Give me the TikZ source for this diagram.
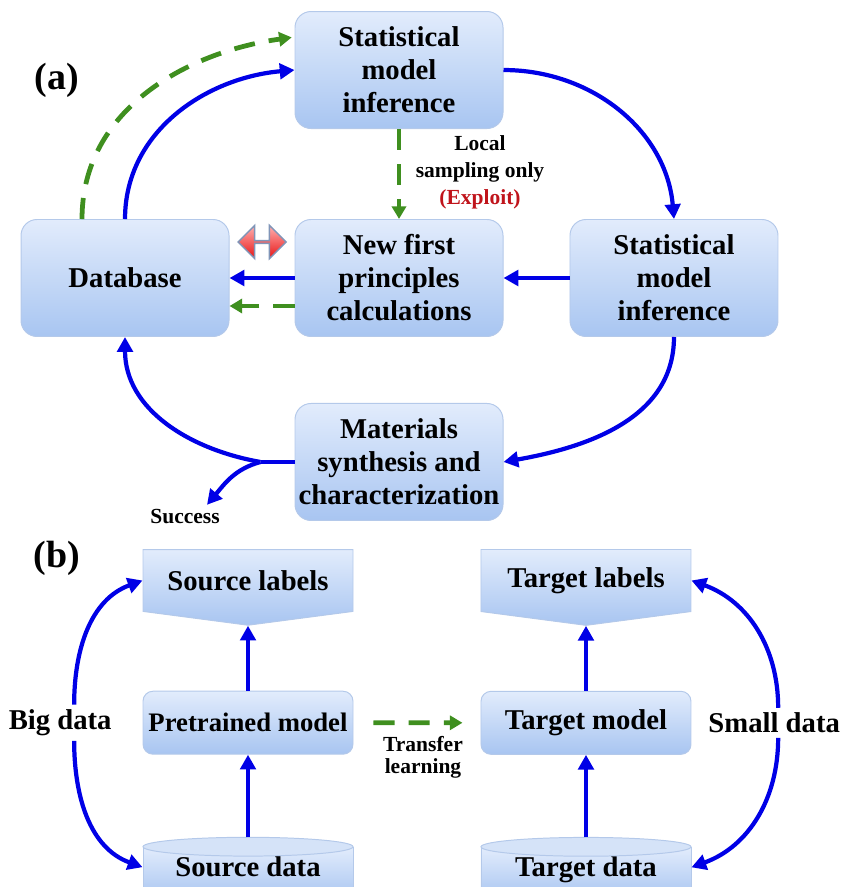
\documentclass[tikz,border=0pt]{standalone}
\usepackage{fontspec}
\setmainfont{Liberation Serif}
\usepackage{tikz}
\usetikzlibrary{
    arrows.meta,
    positioning,
    calc,
    shapes.arrows,
    shapes.symbols,
}
\definecolor{boxtop}{HTML}{E2ECFC}
\definecolor{boxbot}{HTML}{A8C5F1}
\definecolor{boxline}{HTML}{B4C9EA}
\definecolor{capfill}{HTML}{D5E3F8}
\definecolor{arrblue}{HTML}{0000E6}
\definecolor{arrgreen}{HTML}{3F8F1F}
\definecolor{exploitred}{HTML}{C0141B}
\definecolor{dbltop}{HTML}{FFB0B0}
\definecolor{dblred}{HTML}{E81414}
\definecolor{dblline}{HTML}{8095B8}

\begin{document}
\begin{tikzpicture}[
    bigtxt/.style   = {font=\fontsize{20.4}{23.5}\selectfont\bfseries},
    smalltxt/.style = {font=\fontsize{15.3}{19.2}\selectfont\bfseries,
                       align=center},
    abox/.style     = {rectangle, rounded corners=0.4cm, draw=boxline,
                       line width=0.7pt, top color=boxtop, bottom color=boxbot,
                       minimum width=5.2cm, minimum height=2.925cm,
                       align=center, inner sep=2pt, bigtxt},
    bbox/.style     = {rectangle, rounded corners=0.25cm, draw=boxline,
                       line width=0.7pt, top color=boxtop, bottom color=boxbot,
                       minimum width=5.25cm, minimum height=1.575cm,
                       inner sep=1pt, bigtxt},
    lblbox/.style   = {signal, signal to=south, signal from=nowhere,
                       signal pointer angle=165, draw=boxline, line width=0.7pt,
                       top color=boxtop, bottom color=boxbot,
                       minimum width=5.25cm, minimum height=1.825cm, bigtxt},
    datbox/.style   = {rectangle, draw=boxline, line width=0.7pt,
                       top color=boxtop, bottom color=boxbot,
                       minimum width=5.25cm, minimum height=1.3cm,
                       text depth=0.32cm, bigtxt},
    blu/.style      = {draw=arrblue, line width=3pt,
                       -{Triangle[length=10.5pt,width=11pt]}},
    grn/.style      = {draw=arrgreen, line width=3.4pt,
                       dash pattern=on 15pt off 10pt,
                       -{Triangle[length=9pt,width=10pt]}},
]
\useasboundingbox (0,0) rectangle (21,-22.175);

%% ── (a) Boxes ────────────────────────────────────────────────────────────────
\node[abox] (calc) at (9.975,-6.95) {New first\\principles\\calculations};
\node[abox, left=1.625cm of calc]  (db)    {Database};
\node[abox, right=1.65cm of calc]  (stat2) {Statistical\\model\\inference};
\node[abox, above=2.25cm of calc]  (stat1) {Statistical\\model\\inference};
\node[abox, below=1.65cm of calc]  (synth) {Materials\\synthesis and\\characterization};

\node[double arrow, double arrow head extend=0.2cm, minimum height=1.2cm,
      minimum width=0.83cm, inner sep=0pt, top color=dbltop,
      bottom color=dblred, draw=dblline, line width=1pt]
      (swap) at ($(db.east)!0.5!(calc.west)+(0,0.9)$) {};

\node[font=\fontsize{27}{30}\selectfont\bfseries] (lbla) at (1.425,-2.0) {(a)};
\node[smalltxt] (local) at (12.0,-4.3)
     {Local\\sampling only\\\textcolor{exploitred}{(Exploit)}};
\node[smalltxt] (success) at (4.625,-12.925) {Success};

%% ── (a) Connectors ───────────────────────────────────────────────────────────
\draw[grn, shorten >=2pt] ([xshift=-1.075cm]db.north)
     to[out=90, in=188] ([yshift=0.825cm]stat1.west);
\draw[blu] (db.north) to[out=90, in=185] (stat1.west);
\draw[blu] (stat1.east) to[out=0, in=95] (stat2.north);
\draw[grn] (stat1.south) -- (calc.north);
\draw[blu] (calc.west) -- (db.east);
\draw[grn] ([yshift=-0.7cm]calc.west) -- ([yshift=-0.7cm]db.east);
\draw[blu] (stat2.west) -- (stat2.west -| calc.east);
\draw[blu] (stat2.south) to[out=-90, in=10] (synth.east);
\coordinate (fork) at ([xshift=-0.85cm]synth.west);
\draw[blu, -] (synth.west) -- (fork);
\draw[blu] (fork) to[out=170, in=-90] (db.south);
\draw[blu] (fork) to[out=195, in=50] ([xshift=0.55cm]success.north);

%% ── (b) Boxes ────────────────────────────────────────────────────────────────
\node[lblbox] (srclab) at (6.2,-14.5125) {Source labels};
\node[lblbox, right=3.175cm of srclab] (trglab) {Target labels};
\node[bbox, below=1.625cm of srclab, font=\fontsize{19}{22}\selectfont\bfseries]
     (pre) {Pretrained model};
\node[bbox, below=1.625cm of trglab] (trgmod) {Target model};
\node[datbox, below=2.3cm of pre]    (srcdata) {Source data};
\node[datbox, below=2.3cm of trgmod] (trgdata) {Target data};
\draw[draw=boxline, line width=0.7pt, fill=capfill]
     (srcdata.north) ellipse [x radius=2.625cm, y radius=0.235cm];
\draw[draw=boxline, line width=0.7pt, fill=capfill]
     (trgdata.north) ellipse [x radius=2.625cm, y radius=0.235cm];

\node[font=\fontsize{27}{30}\selectfont\bfseries] (lblb) at (1.425,-13.95) {(b)};
\node[bigtxt, left=0.65cm of pre]     (big)   {Big data};
\node[bigtxt, right=0.3cm of trgmod]  (small) {Small data};
\node[font=\fontsize{15.3}{15.5}\selectfont\bfseries, align=center]
     (transfer) at (10.575,-18.925) {Transfer\\learning};

%% ── (b) Connectors ───────────────────────────────────────────────────────────
\draw[blu] ([yshift=0.235cm]srcdata.north) -- (pre.south);
\draw[blu] (pre.north) -- (srclab.south);
\draw[blu] ([yshift=0.235cm]trgdata.north) -- (trgmod.south);
\draw[blu] (trgmod.north) -- (trglab.south);
\draw[grn, shorten <=0.5cm, shorten >=0.45cm] (pre.east) -- (trgmod.west);
\draw[blu] ([xshift=0.35cm]big.north) to[out=90, in=200] (srclab.west);
\draw[blu] ([xshift=0.35cm]big.south) to[out=-90, in=160] ([yshift=0.15cm]srcdata.west);
\draw[blu] ([xshift=0.1cm]small.north) to[out=90, in=-20] (trglab.east);
\draw[blu] ([xshift=0.1cm]small.south) to[out=-90, in=20] ([yshift=0.15cm]trgdata.east);

\end{tikzpicture}
\end{document}
